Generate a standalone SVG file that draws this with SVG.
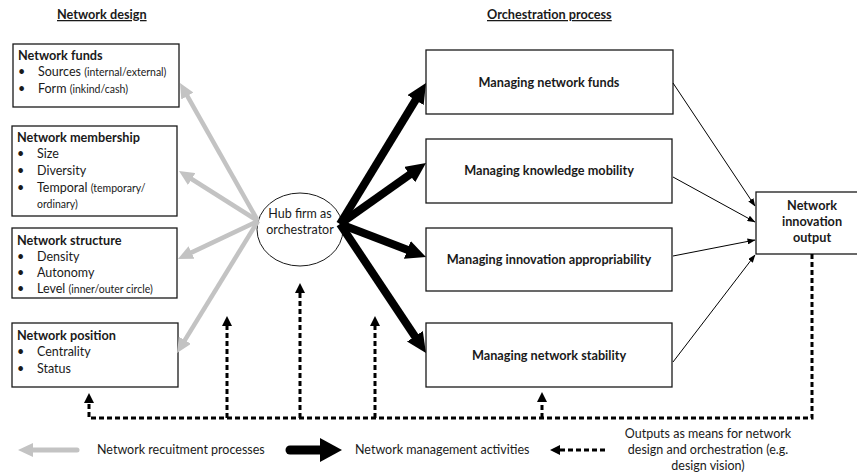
<svg xmlns="http://www.w3.org/2000/svg" width="857" height="474" viewBox="0 0 857 474">
<style>
text{font-family:Lato,"Liberation Sans",sans-serif;font-size:12.5px;fill:#1a1a1a}
.b{font-weight:bold;font-size:12.7px}
.s{font-size:10.5px}
.m{text-anchor:middle}
.box{fill:#fff;stroke:#1a1a1a;stroke-width:1.3}
.gray{fill:none;stroke:#c3c3c3;stroke-width:4.5}
.blk{fill:none;stroke:#000;stroke-width:8}
.thin{fill:none;stroke:#000;stroke-width:1}
.dash{fill:none;stroke:#000;stroke-width:3;stroke-dasharray:5 3}
</style>
<defs>
<marker id="mg" markerUnits="userSpaceOnUse" markerWidth="16" markerHeight="14" refX="2" refY="7" orient="auto"><path d="M0,0 L15,7 L0,14 Z" fill="#c3c3c3"/></marker>
<marker id="mb" markerUnits="userSpaceOnUse" markerWidth="21" markerHeight="19" refX="2" refY="9.5" orient="auto"><path d="M0,0 L20,9.5 L0,19 Z" fill="#000"/></marker>
<marker id="mt" markerUnits="userSpaceOnUse" markerWidth="8" markerHeight="6" refX="7.5" refY="3" orient="auto"><path d="M0,0 L8,3 L0,6 Z" fill="#000"/></marker>
<marker id="md" markerUnits="userSpaceOnUse" markerWidth="10" markerHeight="10" refX="2" refY="5" orient="auto"><path d="M0,0 L10,5 L0,10 Z" fill="#000"/></marker>
</defs>

<text x="57" y="19" class="b" text-decoration="underline">Network design</text>
<text x="487" y="19" class="b" text-decoration="underline">Orchestration process</text>

<g id="network-funds">
<rect class="box" x="13" y="44" width="166" height="63"/>
<text x="18" y="60" class="b">Network funds</text>
<text x="18" y="76">•</text><text x="38" y="76">Sources <tspan class="s">(internal/external)</tspan></text>
<text x="18" y="93">•</text><text x="38" y="93">Form <tspan class="s">(inkind/cash)</tspan></text>
</g>
<g id="network-membership">
<rect class="box" x="12" y="126" width="165" height="90"/>
<text x="17" y="142" class="b">Network membership</text>
<text x="17" y="158">•</text><text x="37" y="158">Size</text>
<text x="17" y="175">•</text><text x="37" y="175">Diversity</text>
<text x="17" y="192">•</text><text x="37" y="192">Temporal <tspan class="s">(temporary/</tspan></text>
<text x="37" y="208" class="s">ordinary)</text>
</g>
<g id="network-structure">
<rect class="box" x="12" y="228" width="165" height="70"/>
<text x="17" y="245" class="b">Network structure</text>
<text x="17" y="261">•</text><text x="37" y="261">Density</text>
<text x="17" y="277">•</text><text x="37" y="277">Autonomy</text>
<text x="17" y="293">•</text><text x="37" y="293">Level <tspan class="s">(inner/outer circle)</tspan></text>
</g>
<g id="network-position">
<rect class="box" x="12" y="323" width="166" height="64"/>
<text x="17" y="340" class="b">Network position</text>
<text x="17" y="356">•</text><text x="37" y="356">Centrality</text>
<text x="17" y="373">•</text><text x="37" y="373">Status</text>
</g>

<g id="hub">
<ellipse cx="300" cy="229.5" rx="43" ry="36.5" fill="#fff" stroke="#1a1a1a" stroke-width="1"/>
<text x="300" y="218" class="m">Hub firm as</text>
<text x="300" y="234" class="m">orchestrator</text>
</g>

<g id="managing-funds">
<rect class="box" x="426" y="50" width="247" height="64"/>
<text x="549" y="87" class="b m">Managing network funds</text>
</g>
<g id="managing-knowledge">
<rect class="box" x="426" y="139" width="246" height="64"/>
<text x="549" y="175" class="b m">Managing knowledge mobility</text>
</g>
<g id="managing-appropriability">
<rect class="box" x="426" y="228" width="246" height="63"/>
<text x="549" y="264" class="b m">Managing innovation appropriability</text>
</g>
<g id="managing-stability">
<rect class="box" x="426" y="323" width="246" height="64"/>
<text x="549" y="360" class="b m">Managing network stability</text>
</g>

<g id="output">
<rect class="box" x="756" y="192" width="110" height="62"/>
<text x="812" y="210" class="b m">Network</text>
<text x="812" y="226" class="b m">innovation</text>
<text x="812" y="242" class="b m">output</text>
</g>

<g id="connectors">
<path class="gray" d="M258,221 L186.4,94.3" marker-end="url(#mg)"/>
<path class="gray" d="M258,221 L190,178" marker-end="url(#mg)"/>
<path class="gray" d="M258,221 L189.7,253.4" marker-end="url(#mg)"/>
<path class="gray" d="M258,221 L183.8,341.9" marker-end="url(#mg)"/>

<path class="blk" d="M340,224 L416.6,98.4" marker-end="url(#mb)"/>
<path class="blk" d="M340,224 L411.3,173.4" marker-end="url(#mb)"/>
<path class="blk" d="M340,224 L409.2,250.6" marker-end="url(#mb)"/>
<path class="blk" d="M340,224 L416,338" marker-end="url(#mb)"/>

<path class="thin" d="M673,83 L755,206" marker-end="url(#mt)"/>
<path class="thin" d="M673,177 L755,222" marker-end="url(#mt)"/>
<path class="thin" d="M673,256 L755,240" marker-end="url(#mt)"/>
<path class="thin" d="M673,362 L755,255" marker-end="url(#mt)"/>

<path class="dash" d="M812,254 V418 H89 V401" marker-end="url(#md)"/>
<path class="dash" d="M227,418 V324" marker-end="url(#md)"/>
<path class="dash" d="M300,418 V291" marker-end="url(#md)"/>
<path class="dash" d="M375,418 V324" marker-end="url(#md)"/>
<path class="dash" d="M542,418 V400" marker-end="url(#md)"/>
</g>

<g id="legend">
<path d="M77,450 L31,450" fill="none" stroke="#c3c3c3" stroke-width="5" stroke-linecap="round"/>
<path d="M18,450 L33,443 L33,457 Z" fill="#c3c3c3"/>
<text x="97" y="454">Network recuitment processes</text>
<path d="M290,450 L322,450" fill="none" stroke="#000" stroke-width="9" stroke-linecap="round"/>
<path d="M342,450 L320,438 L320,462 Z" fill="#000"/>
<text x="355" y="454">Network management activities</text>
<path class="dash" d="M605,450 H558"/>
<path d="M550,450 L560,445 L560,455 Z" fill="#000"/>
<text x="708" y="438" class="m">Outputs as means for network</text>
<text x="708" y="454" class="m">design and orchestration (e.g.</text>
<text x="708" y="470" class="m">design vision)</text>
</g>
</svg>
